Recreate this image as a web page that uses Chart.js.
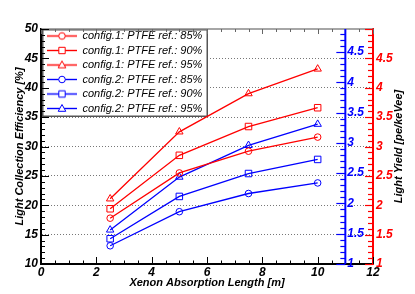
<!DOCTYPE html>
<html><head><meta charset="utf-8">
<script src="https://cdn.jsdelivr.net/npm/chart.js@4/dist/chart.umd.min.js"></script>
<style>html,body{margin:0;padding:0;background:#fff}canvas{display:block}</style>
</head><body>
<canvas id="c" width="415" height="294"></canvas>
<script>
// ---- data ----
const xValues = [2.5, 5, 7.5, 10];
const cfg1_85 = [17.8, 25.5, 29.2, 31.6];
const cfg1_90 = [19.4, 28.5, 33.4, 36.6];
const cfg1_95 = [21.1, 32.5, 39.0, 43.2];
const cfg2_85 = [13.1, 18.9, 22.0, 23.8];
const cfg2_90 = [14.3, 21.5, 25.4, 27.8];
const cfg2_95 = [15.8, 24.8, 30.2, 33.8];
const seriesLabels = [
  'config.1: PTFE ref.: 85%', 'config.1: PTFE ref.: 90%', 'config.1: PTFE ref.: 95%',
  'config.2: PTFE ref.: 85%', 'config.2: PTFE ref.: 90%', 'config.2: PTFE ref.: 95%'
];
const xTickLabels = [0, 2, 4, 6, 8, 10, 12];
const leftTickLabels = [10, 15, 20, 25, 30, 35, 40, 45, 50];
const blueTickLabels = [1, 1.5, 2, 2.5, 3, 3.5, 4, 4.5];
const redTickLabels = [1, 1.5, 2, 2.5, 3, 3.5, 4, 4.5];
const xTitle = 'Xenon Absorption Length [m]';
const yTitle = 'Light Collection Efficiency [%]';
const y2Title = 'Light Yield [pe/keVee]';

const RED = '#ff0000', BLUE = '#0000ff';
const FAM = '"Liberation Sans", Arial, Helvetica, sans-serif';
const tickFont = {family: FAM, size: 12, style: 'italic', weight: 'bold'};
const titleFont = {family: FAM, size: 11, style: 'italic', weight: 'bold'};

const seriesData = [cfg1_85, cfg1_90, cfg1_95, cfg2_85, cfg2_90, cfg2_95];
const seriesColors = [RED, RED, RED, BLUE, BLUE, BLUE];
const seriesStyles = ['circle', 'rect', 'triangle', 'circle', 'rect', 'triangle'];
const styleRadius = {circle: 3.3, rect: 4.6, triangle: 4.3};

function legendIcon(color, style) {
  const c = document.createElement('canvas'); c.width = 30; c.height = 11;
  const g = c.getContext('2d');
  g.strokeStyle = color; g.lineWidth = 1.4;
  g.beginPath(); g.moveTo(0, 5.5); g.lineTo(30, 5.5); g.stroke();
  g.lineWidth = 1;
  g.beginPath();
  if (style === 'circle') g.arc(15, 5.5, 3.3, 0, 2 * Math.PI);
  else if (style === 'rect') g.rect(11.8, 2.3, 6.4, 6.4);
  else { g.moveTo(15, 1.5); g.lineTo(18.8, 8.3); g.lineTo(11.2, 8.3); g.closePath(); }
  g.fillStyle = '#fff'; g.fill(); g.stroke();
  return c;
}

const datasets = seriesData.map((arr, i) => ({
  label: seriesLabels[i],
  data: xValues.map((x, j) => ({x: x, y: arr[j]})),
  borderColor: seriesColors[i],
  backgroundColor: 'rgba(0,0,0,0)',
  pointBorderColor: seriesColors[i],
  pointBackgroundColor: 'rgba(0,0,0,0)',
  pointStyle: seriesStyles[i],
  pointRadius: styleRadius[seriesStyles[i]],
  pointBorderWidth: 1,
  borderWidth: 1.3,
  tension: 0,
  fill: false,
  xAxisID: 'x', yAxisID: 'y'
}));

function drawLegendBox(chart) {
  const ctx = chart.ctx, ca = chart.chartArea;
  ctx.save();
  ctx.fillStyle = '#fff';
  ctx.fillRect(ca.left + 1, ca.top, 166, 87);
  ctx.strokeStyle = '#555'; ctx.lineWidth = 1.5;
  ctx.strokeRect(ca.left + 1.75, ca.top + 0.75, 164.5, 86.5);
  ctx.restore();
}

function seg(ctx, x1, y1, x2, y2) { ctx.beginPath(); ctx.moveTo(x1, y1); ctx.lineTo(x2, y2); ctx.stroke(); }

const decor = {
  id: 'decor',
  beforeUpdate(chart) {
    const lg = chart.legend;
    if (lg && !lg._boxPatched) {
      const orig = lg.draw.bind(lg);
      lg.draw = function (area) { drawLegendBox(chart); orig(area); };
      lg._boxPatched = true;
    }
  },
  afterLayout(chart) {
    const lg = chart.legend, ca = chart.chartArea;
    if (!lg) return;
    const w = lg.width, h = lg.height;
    lg.left = ca.left + 2.5; lg.right = lg.left + w;
    lg.top = ca.top - 2; lg.bottom = lg.top + h;
  },
  afterDraw(chart) {
    const {ctx, chartArea: ca, scales} = chart;
    const xs = scales.x, ys = scales.y, yb = scales.yBlue, yr = scales.yRed;
    ctx.save();
    // top frame
    ctx.strokeStyle = '#888'; ctx.lineWidth = 1.5;
    seg(ctx, ca.left, ca.top, ca.right, ca.top);
    // x ticks (bottom & top, inward)
    ctx.strokeStyle = '#000'; ctx.lineWidth = 1;
    for (let k = 0; k <= 24; k++) {
      const v = k * 0.5;
      const px = Math.round(xs.getPixelForValue(v)) + 0.5;
      const major = k % 4 === 0;
      seg(ctx, px, ca.bottom, px, ca.bottom - (major ? 7 : 3.5));
      ctx.strokeStyle = '#666';
      seg(ctx, px, ca.top, px, ca.top + (major ? 5 : 3));
      ctx.strokeStyle = '#000';
    }
    // left ticks
    for (let v = 10; v <= 50; v++) {
      const py = Math.round(ys.getPixelForValue(v)) + 0.5;
      seg(ctx, ca.left, py, ca.left + (v % 5 === 0 ? 8 : 4), py);
    }
    // blue axis
    const bx = xs.getPixelForValue(11);
    ctx.strokeStyle = BLUE; ctx.lineWidth = 2;
    seg(ctx, bx, ca.top, bx, ca.bottom);
    ctx.lineWidth = 1.2;
    for (let k = 10; k <= 48; k++) {
      const py = Math.round(yb.getPixelForValue(k / 10)) + 0.5;
      seg(ctx, bx, py, bx - (k % 5 === 0 ? 9 : 5), py);
    }
    ctx.fillStyle = BLUE;
    ctx.font = 'italic bold 12px ' + FAM;
    ctx.textAlign = 'left'; ctx.textBaseline = 'middle';
    blueTickLabels.forEach(v => {
      ctx.fillText(String(v), bx + 2, yb.getPixelForValue(v));
    });
    // red ticks
    ctx.strokeStyle = RED; ctx.lineWidth = 1.2;
    for (let k = 10; k <= 50; k++) {
      const py = Math.round(yr.getPixelForValue(k / 10)) + 0.5;
      seg(ctx, ca.right, py, ca.right - (k % 5 === 0 ? 8 : 5), py);
    }
    // red axis title (reads bottom to top)
    ctx.fillStyle = '#000';
    ctx.font = 'italic bold 11px ' + FAM;
    ctx.translate(399, (ca.top + ca.bottom) / 2);
    ctx.rotate(-Math.PI / 2);
    ctx.textAlign = 'center'; ctx.textBaseline = 'middle';
    ctx.fillText(y2Title, 0, 0);
    ctx.restore();
  }
};

new Chart(document.getElementById('c'), {
  type: 'line',
  data: {datasets},
  options: {
    responsive: false, animation: false, devicePixelRatio: 1,
    layout: {padding: {top: 29, left: 0, right: 0, bottom: 0}},
    plugins: {
      tooltip: {enabled: false},
      legend: {
        display: true, position: 'chartArea', align: 'start',
        labels: {
          usePointStyle: true, pointStyleWidth: 30, padding: 3.5,
          color: '#000',
          font: {family: FAM, size: 11, style: 'italic'},
          generateLabels(chart) {
            const items = Chart.defaults.plugins.legend.labels.generateLabels(chart);
            items.forEach((it, i) => { it.pointStyle = legendIcon(seriesColors[i], seriesStyles[i]); it.fontColor = '#000'; });
            return items;
          }
        }
      }
    },
    scales: {
      x: {
        type: 'linear', position: 'bottom', min: 0, max: 12,
        afterBuildTicks(s) { s.ticks = xTickLabels.map(v => ({value: v})); },
        afterFit(s) { s.height = 30; },
        grid: {display: false, drawTicks: false},
        border: {display: true, color: '#000', width: 2},
        ticks: {autoSkip: false, maxRotation: 0, padding: 1, color: '#000', font: tickFont, callback: v => String(v)},
        title: {display: true, text: xTitle, color: '#000', font: titleFont, padding: {top: 0, bottom: 4}}
      },
      y: {
        type: 'linear', position: 'left', min: 10, max: 50,
        afterBuildTicks(s) { s.ticks = leftTickLabels.map(v => ({value: v})); },
        afterFit(s) { s.width = 41; },
        grid: {
          drawTicks: false, lineWidth: 1,
          color: ctx => (ctx.tick && (ctx.tick.value === 10 || ctx.tick.value === 50)) ? 'rgba(0,0,0,0)' : '#777'
        },
        border: {display: true, color: '#000', width: 2, dash: [1, 2]},
        ticks: {autoSkip: false, padding: 3, color: '#000', font: tickFont, callback: v => String(v)},
        title: {display: true, text: yTitle, color: '#000', font: titleFont, padding: {top: 13, bottom: 0}}
      },
      yRed: {
        type: 'linear', position: 'right', min: 1, max: 5,
        afterBuildTicks(s) { s.ticks = redTickLabels.map(v => ({value: v})); },
        afterFit(s) { s.width = 42; },
        grid: {display: false, drawTicks: false, drawOnChartArea: false},
        border: {display: true, color: RED, width: 2},
        ticks: {autoSkip: false, padding: 3, color: RED, font: tickFont, callback: v => String(v)}
      },
      yBlue: {
        type: 'linear', display: false, min: 1, max: 4.88
      }
    }
  },
  plugins: [decor]
});
</script>
</body></html>
